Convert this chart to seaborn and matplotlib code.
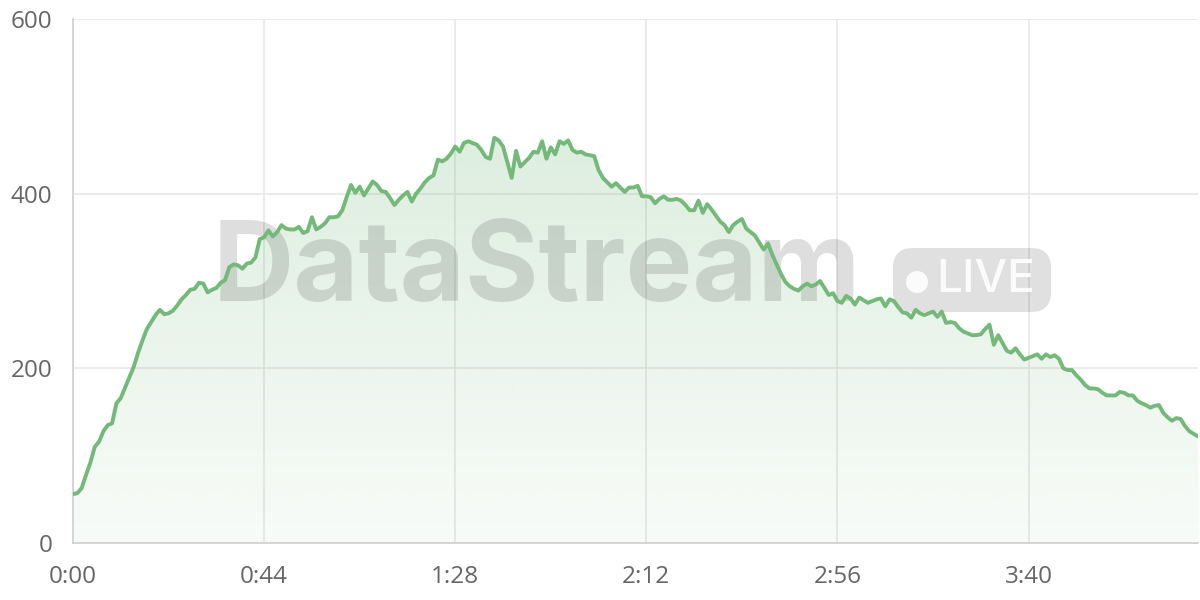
import numpy as np
import pandas as pd
import matplotlib
matplotlib.use("Agg")
import matplotlib.pyplot as plt
import seaborn as sns
from matplotlib.patches import FancyBboxPatch, Circle

# --------------------------------------------------
# DATA (one reading per second)
# --------------------------------------------------

listeners = [
    56, 57, 63, 78, 92, 110, 116, 128, 135, 137,
    160, 166, 178, 190, 202, 218, 232, 245, 253, 261,
    267, 262, 263, 266, 272, 279, 284, 290, 291, 298,
    297, 287, 290, 292, 298, 301, 316, 319, 318, 314,
    320, 321, 327, 348, 350, 358, 351, 356, 364, 360,
    359, 359, 362, 355, 357, 373, 359, 362, 366, 373,
    373, 374, 381, 396, 410, 401, 408, 398, 406, 414,
    410, 403, 402, 395, 387, 393, 398, 402, 391, 400,
    406, 413, 418, 421, 439, 437, 440, 446, 454, 448,
    458, 460, 458, 456, 450, 442, 440, 464, 461, 454,
    436, 418, 449, 431, 436, 441, 448, 447, 460, 440,
    453, 445, 460, 457, 461, 450, 447, 448, 445, 444,
    443, 427, 418, 413, 408, 412, 407, 402, 407, 407,
    409, 397, 397, 396, 389, 394, 397, 393, 393, 394,
    392, 387, 381, 381, 392, 378, 388, 382, 375, 368,
    364, 356, 364, 368, 371, 360, 356, 352, 344, 336,
    343, 330, 319, 308, 299, 294, 291, 289, 294, 297,
    294, 296, 300, 292, 284, 286, 277, 275, 283, 280,
    273, 281, 278, 275, 277, 279, 280, 271, 279, 277,
    270, 264, 263, 258, 267, 263, 261, 263, 265, 259,
    265, 252, 253, 252, 246, 242, 240, 238, 238, 239,
    245, 250, 227, 238, 229, 220, 218, 223, 216, 210,
    212, 214, 216, 211, 216, 213, 215, 211, 200, 198,
    198, 192, 187, 181, 177, 177, 176, 172, 169, 169,
    169, 173, 172, 169, 169, 163, 160, 158, 155, 157,
    158, 149, 144, 140, 143, 142, 134, 128, 125, 122,
]
seconds = list(range(len(listeners)))

x_tick_seconds = [0, 44, 88, 132, 176, 220]
y_ticks = [0, 200, 400, 600]

# --------------------------------------------------
# STYLE
# --------------------------------------------------

LINE_COLOR = "#74b97a"
GRID_COLOR = "#e6e6e6"
AXIS_COLOR = "#cfcfcf"
TEXT_COLOR = "#666666"

sns.set_theme(style="whitegrid")
plt.rcParams["font.family"] = ["Open Sans", "DejaVu Sans"]

df = pd.DataFrame({"t": seconds, "value": listeners})

fig = plt.figure(figsize=(12, 6), dpi=100)
ax = fig.add_axes([73 / 1200, 57 / 600, 1125 / 1200, 524 / 600])
ax.set_facecolor("white")

# --------------------------------------------------
# GRADIENT AREA
# --------------------------------------------------

area = ax.fill_between(df["t"], df["value"], 0, color="none", linewidth=0)
alphas = np.linspace(0.30, 0.05, 256).reshape(-1, 1)
grad = np.zeros((256, 1, 4))
grad[..., 0] = 116 / 255
grad[..., 1] = 185 / 255
grad[..., 2] = 122 / 255
grad[..., 3] = alphas
img = ax.imshow(grad, extent=[0, seconds[-1], 0, 600], aspect="auto",
                origin="upper", zorder=1, interpolation="bilinear")
img.set_clip_path(area.get_paths()[0], transform=ax.transData)

# --------------------------------------------------
# WATERMARK (under the line, over the area)
# --------------------------------------------------

ax.text(537 / 1200, 1 - 271 / 600, "DataStream", transform=fig.transFigure,
        ha="center", va="center", fontsize=81, fontweight="bold",
        family=["Inter", "DejaVu Sans"], color="black", alpha=0.13,
        zorder=5, clip_on=False)

badge = FancyBboxPatch((893, 288), 158, 64,
                       boxstyle="round,pad=0,rounding_size=20",
                       transform=None, facecolor="black", alpha=0.12,
                       edgecolor="none", zorder=5, clip_on=False)
ax.add_patch(badge)
ax.text(986 / 1200, 1 - 280 / 600, "LIVE", transform=fig.transFigure,
        ha="center", va="center", fontsize=33, fontweight="medium",
        family=["Inter", "DejaVu Sans"], color="white", alpha=0.9,
        zorder=6, clip_on=False)
dot = Circle((917, 600 - 282), 11, transform=None, facecolor="white",
             edgecolor="none", alpha=0.9, zorder=6, clip_on=False)
ax.add_patch(dot)

# --------------------------------------------------
# LINE
# --------------------------------------------------

sns.lineplot(data=df, x="t", y="value", ax=ax, color=LINE_COLOR,
             linewidth=2.8, zorder=10)

# --------------------------------------------------
# AXES
# --------------------------------------------------

ax.set_xlim(0, seconds[-1])
ax.set_ylim(0, 600)
ax.set_xticks(x_tick_seconds)
ax.set_xticklabels([f"{s // 60}:{s % 60:02d}" for s in x_tick_seconds])
ax.set_yticks(y_ticks)
ax.set_xlabel("")
ax.set_ylabel("")

ax.grid(True, color=GRID_COLOR, linewidth=1.1)
ax.tick_params(axis="both", length=11, width=1.1, color=GRID_COLOR,
               labelcolor=TEXT_COLOR, labelsize=17.5)
ax.tick_params(axis="x", pad=5)
ax.tick_params(axis="y", pad=4)

for side in ["top", "right"]:
    ax.spines[side].set_visible(False)
for side in ["left", "bottom"]:
    ax.spines[side].set_color(AXIS_COLOR)
    ax.spines[side].set_linewidth(1.2)

plt.savefig("out.png", dpi=100)
plt.close()
